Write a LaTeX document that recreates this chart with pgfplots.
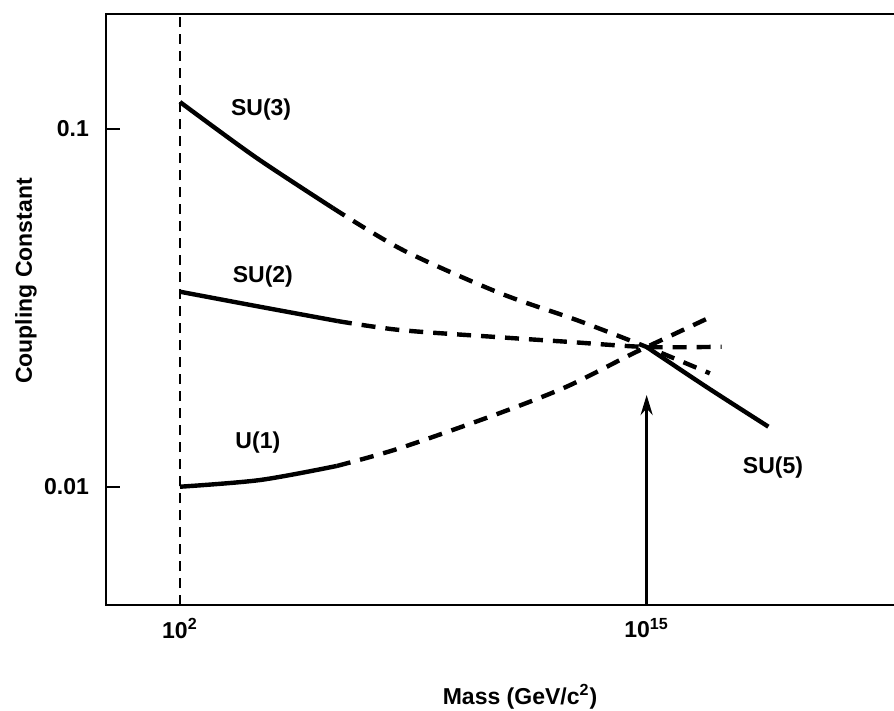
\documentclass[border=0pt]{standalone}
\usepackage{pgfplots}
\pgfplotsset{compat=1.18}
\usepackage{fontspec}
\setmainfont{Liberation Sans}
\usetikzlibrary{arrows.meta}
\begin{document}
\begin{tikzpicture}[font=\fontsize{11.5}{13.8}\selectfont\bfseries]
\useasboundingbox (-53pt,-53pt) rectangle (394pt,302.5pt);
\begin{axis}[
  at={(0,0)}, anchor=south west,
  width=394pt, height=295.5pt, scale only axis,
  xmin=-0.06, xmax=21.89,
  ymode=log, ymin=0.00467, ymax=0.2097,
  axis line style={draw=none},
  xtick={2,15}, xticklabels={10\textsuperscript{2},10\textsuperscript{15}},
  ytick={0.01,0.1}, yticklabels={0.01,0.1},
  yminorticks=false, xminorticks=false,
  xtick style={draw=none},
  ytick pos=left, tick align=inside,
  major tick length=7pt,
  ytick style={line width=1.2pt, black},
  yticklabel style={xshift=-5pt},
  xticklabel style={yshift=-3pt},
  clip=false,
]
\draw[line width=1.3pt] (rel axis cs:1,1) -- (rel axis cs:0,1) -- (rel axis cs:0,0) -- (rel axis cs:1,0);
% vertical dashed line at 10^2
\addplot[black, line width=1.3pt, dash pattern=on 5pt off 3.5pt] coordinates {(2,0.00467) (2,0.2097)};
% SU(3)
\addplot[black, line width=2.2pt, smooth, tension=0.5] coordinates {(2,0.1190) (4.1,0.0835) (6.26,0.06013)};
\addplot[black, line width=2.2pt, smooth, tension=0.5, dash pattern=on 7pt off 5pt] coordinates {(6.26,0.06013) (8.21,0.04589) (10.91,0.03478) (13.05,0.02924) (15,0.02458) (16.76,0.02075)};
% SU(2)
\addplot[black, line width=2.2pt, smooth, tension=0.5] coordinates {(2,0.03509) (4.23,0.03185) (6.40,0.02904)};
\addplot[black, line width=2.2pt, smooth, tension=0.5, dash pattern=on 7pt off 5pt] coordinates {(6.40,0.02904) (8.13,0.02742) (10.82,0.02621) (12.77,0.02543) (15,0.02458) (17.09,0.02462)};
% U(1)
\addplot[black, line width=2.2pt, smooth, tension=0.5] coordinates {(2,0.0100) (4.23,0.01044) (6.37,0.01143)};
\addplot[black, line width=2.2pt, smooth, tension=0.5, dash pattern=on 7pt off 5pt] coordinates {(6.37,0.01143) (8.13,0.01282) (10.91,0.01607) (12.77,0.01904) (14.44,0.02310) (15,0.02458) (16.90,0.0302)};
% SU(5)
\addplot[black, line width=2.2pt, smooth, tension=0.5] coordinates {(15,0.02458) (16.67,0.0190) (18.39,0.01472)};
% arrow
\addplot[black, line width=1.5pt, -{Stealth[length=10pt,width=6pt]}] coordinates {(15,0.00467) (15,0.01805)};
% labels
\node at (axis cs:4.26,0.1130) {SU(3)};
\node at (axis cs:4.31,0.03865) {SU(2)};
\node at (axis cs:4.17,0.01325) {U(1)};
\node at (axis cs:18.52,0.01128) {SU(5)};
\end{axis}
\node at (207pt,-46pt) {Mass (GeV/c\textsuperscript{2})};
\node[rotate=90] at (-40pt,162pt) {Coupling Constant};
\end{tikzpicture}
\end{document}
